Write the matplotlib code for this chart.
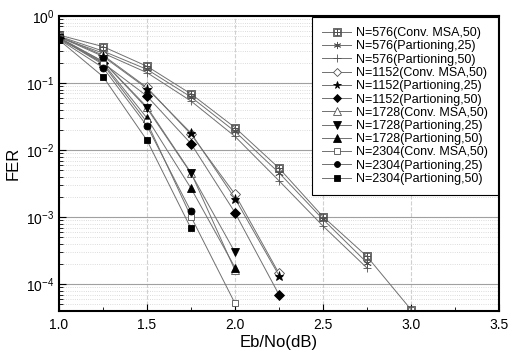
import matplotlib
matplotlib.use('Agg')
import matplotlib.pyplot as plt
from matplotlib.ticker import MultipleLocator, LogLocator, NullFormatter

plt.rcParams['font.family'] = ['Liberation Sans', 'DejaVu Sans']
plt.rcParams['mathtext.fontset'] = 'custom'
plt.rcParams['mathtext.rm'] = 'Liberation Sans'
plt.rcParams['mathtext.it'] = 'Liberation Sans'

# Eb/No (dB)
ebno = [1.0, 1.25, 1.5, 1.75, 2.0, 2.25, 2.5, 2.75, 3.0]

# FER por curva
n576_conv = [0.52, 0.35, 0.178, 0.069, 0.0217, 0.0054, 0.00102, 0.00026, 4.2e-5]
n576_p25 = [0.50, 0.30, 0.160, 0.062, 0.0190, 0.0046, 0.00093, 0.00021]
n576_p50 = [0.48, 0.28, 0.143, 0.054, 0.0160, 0.0035, 0.00074, 0.000175]
n1152_conv = [0.50, 0.26, 0.086, 0.0172, 0.0022, 0.000145]
n1152_p25 = [0.49, 0.25, 0.083, 0.0180, 0.0019, 0.000135]
n1152_p50 = [0.47, 0.20, 0.064, 0.0125, 0.00117, 7.0e-5]
n1728_conv = [0.48, 0.21, 0.044, 0.0046, 0.000162]
n1728_p25 = [0.47, 0.21, 0.042, 0.0045, 0.00030]
n1728_p50 = [0.46, 0.20, 0.030, 0.0027, 0.000178]
n2304_conv = [0.47, 0.19, 0.026, 0.00102, 5.2e-5]
n2304_p25 = [0.45, 0.17, 0.023, 0.00122]
n2304_p50 = [0.44, 0.125, 0.014, 0.00068]

series = [
    ('N=576(Conv. MSA,50)', n576_conv, r'$\boxplus$', 'none', 6),
    ('N=576(Partioning,25)', n576_p25, (6, 2, 0), 'none', 6),
    ('N=576(Partioning,50)', n576_p50, '+', 'none', 6),
    ('N=1152(Conv. MSA,50)', n1152_conv, 'D', 'white', 5),
    ('N=1152(Partioning,25)', n1152_p25, '*', 'black', 6.5),
    ('N=1152(Partioning,50)', n1152_p50, 'D', 'black', 5),
    ('N=1728(Conv. MSA,50)', n1728_conv, '^', 'white', 6),
    ('N=1728(Partioning,25)', n1728_p25, 'v', 'black', 6),
    ('N=1728(Partioning,50)', n1728_p50, '^', 'black', 6),
    ('N=2304(Conv. MSA,50)', n2304_conv, 's', 'white', 5),
    ('N=2304(Partioning,25)', n2304_p25, 'o', 'black', 5),
    ('N=2304(Partioning,50)', n2304_p50, 's', 'black', 5),
]

fig = plt.figure(figsize=(5.11, 3.55), dpi=100)
ax = fig.add_axes([59 / 511, 44 / 355, 440 / 511, 295 / 355])

for nome, fer, marcador, face, tam in series:
    borda = '#505050' if face != 'black' else 'black'
    ax.plot(ebno[:len(fer)], fer, color='#707070', lw=0.7,
            marker=marcador, markersize=tam, markerfacecolor=face,
            markeredgecolor=borda, markeredgewidth=0.6, label=nome)

ax.set_yscale('log')
ax.set_xlim(1.0, 3.5)
ax.set_ylim(4e-5, 1)
ax.xaxis.set_major_locator(MultipleLocator(0.5))
ax.xaxis.set_minor_locator(MultipleLocator(0.25))
ax.xaxis.set_major_formatter(matplotlib.ticker.FormatStrFormatter('%.1f'))
ax.yaxis.set_minor_locator(LogLocator(base=10, subs=range(2, 10)))
ax.yaxis.set_minor_formatter(NullFormatter())

ax.grid(True, which='major', axis='y', color='#a0a0a0', lw=0.8)
ax.grid(True, which='minor', axis='y', color='#d0d0d0', lw=0.6, ls=':')
ax.grid(True, which='major', axis='x', color='#d0d0d0', lw=0.8, ls='--')

ax.tick_params(which='both', direction='in', labelsize=10, colors='black')
ax.tick_params(axis='x', pad=5)
ax.tick_params(which='major', length=5)
ax.tick_params(which='minor', length=3)
for s in ax.spines.values():
    s.set_linewidth(1.5)

ax.set_xlabel('Eb/No(dB)', fontsize=12, labelpad=2)
ax.set_ylabel('FER', fontsize=12, labelpad=4)

leg = ax.legend(loc='upper right', fontsize=9, frameon=True, fancybox=False,
                edgecolor='black', framealpha=1, handlelength=2.3,
                borderaxespad=0.1, borderpad=0.8, labelspacing=0.1,
                handletextpad=0.4, markerscale=0.85)
leg.get_frame().set_linewidth(0.8)

fig.savefig('out.png', dpi=100)
